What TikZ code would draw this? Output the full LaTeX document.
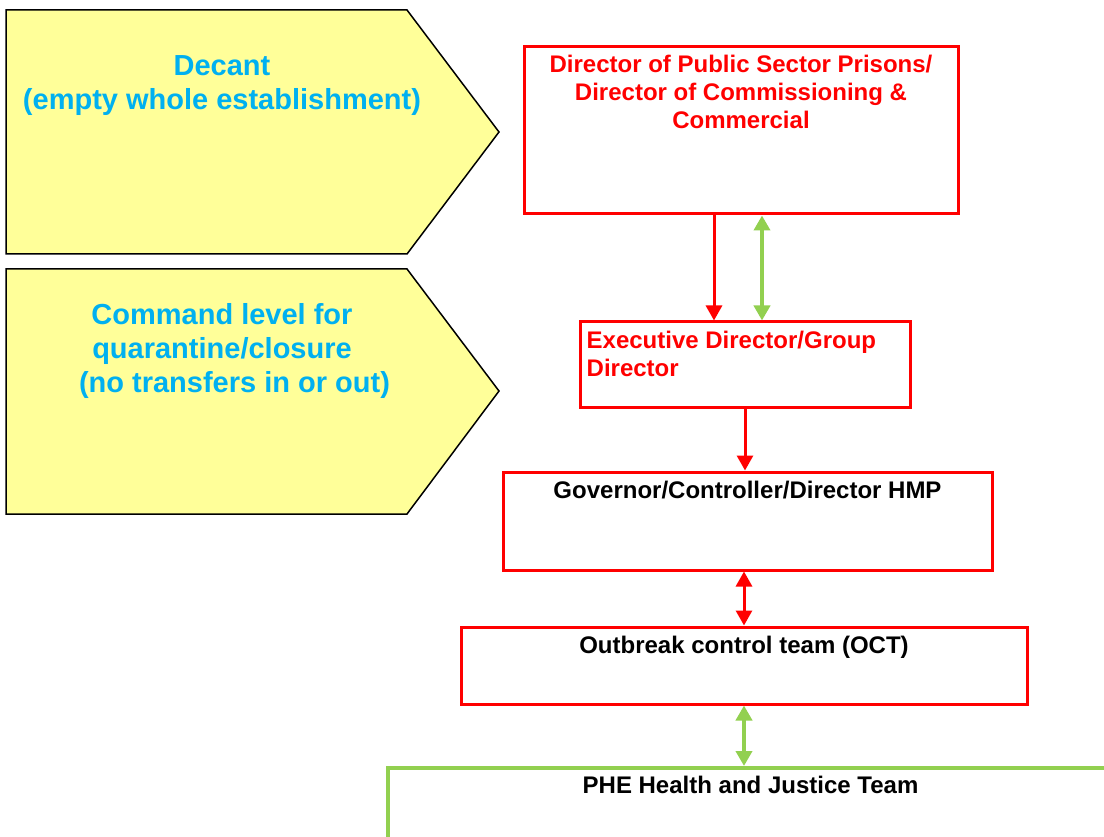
\documentclass[tikz,border=0pt]{standalone}
\usepackage{fontspec}
\setmainfont{Liberation Sans}
\usetikzlibrary{positioning,arrows.meta}
\definecolor{phered}{HTML}{FF0000}
\definecolor{phegreen}{HTML}{92D050}
\definecolor{pheblue}{HTML}{00B0F0}
\definecolor{pheyellow}{HTML}{FFFF99}

\begin{document}
\begin{tikzpicture}[x=1pt,y=-1pt,
    redbox/.style={draw=phered,line width=3pt,rectangle,inner sep=0pt},
    greenbox/.style={draw=phegreen,line width=4pt,rectangle,inner sep=0pt},
    banner/.style={draw=black,line width=1.5pt,fill=pheyellow},
    boxtext/.style={font=\fontsize{24pt}{28pt}\selectfont\bfseries,inner sep=0pt,anchor=north},
    bannertext/.style={font=\fontsize{29pt}{34pt}\selectfont\bfseries,text=pheblue,align=center,inner sep=0pt,anchor=north},
    redline/.style={draw=phered,line width=3pt},
    greenline/.style={draw=phegreen,line width=4pt},
    >={Triangle[length=15pt,width=16pt]}]

        \useasboundingbox[fill=white] (0,0) rectangle (1104,837);
        \clip (0,0) rectangle (1104,837);

        \draw[banner] (6,10) -- (407,10) -- (499,132) -- (407,254) -- (6,254) -- cycle;
        \draw[banner] (6,269) -- (407,269) -- (499,391) -- (407,514) -- (6,514) -- cycle;
        \node[bannertext] (decant)  at (222,55)  {Decant\\(empty whole establishment)};
        \node[bannertext] (command) at (222,303) {Command level for\\quarantine/closure\\\hspace*{25pt}(no transfers in or out)};

        \node[redbox, minimum width=434pt, minimum height=167pt] (dpsp) at (741,130.5) {};
        \node[redbox, minimum width=330pt, minimum height=85pt, below=105pt of dpsp, xshift=4pt]  (exec) {};
        \node[redbox, minimum width=489pt, minimum height=98pt, below=62pt of exec, xshift=2.5pt] (gov)  {};
        \node[redbox, minimum width=566pt, minimum height=77pt, below=54pt of gov, xshift=-3.5pt] (oct)  {};
        \node[greenbox, minimum width=800pt, minimum height=120pt, below=60.5pt of oct, xshift=44pt] (phe) {};

        \node[boxtext, text=phered, align=center, yshift=-9pt] (dpsp-t) at (dpsp.north)
            {Director of Public Sector Prisons/\\Director of Commissioning \&\\Commercial};
        \node[boxtext, text=phered, align=left, anchor=north west, xshift=8pt, yshift=-10pt] (exec-t) at (exec.north west)
            {Executive Director/Group\\Director};
        \node[boxtext, yshift=-10pt] (gov-t) at (gov.north) {Governor/Controller/Director HMP};
        \node[boxtext, yshift=-10pt] (oct-t) at (oct.north) {Outbreak control team (OCT)};
        \node[boxtext, yshift=-10pt] (phe-t) at ([xshift=-37.5pt]phe.north) {PHE Health and Justice Team};

        \coordinate (down1) at ([xshift=-27pt]dpsp.south);
        \coordinate (up1)   at ([xshift=21pt]dpsp.south);
        \draw[redline,->]    (down1) -- (down1 |- exec.north);
        \draw[greenline,<->] (up1) -- (up1 |- exec.north);
        \draw[redline,->]    (exec.south) -- (exec.south |- gov.north);
        \draw[redline,<->]   (oct.north |- gov.south) -- (oct.north);
        \draw[greenline,<->] (oct.south) -- (oct.south |- phe.north);
\end{tikzpicture}
\end{document}
